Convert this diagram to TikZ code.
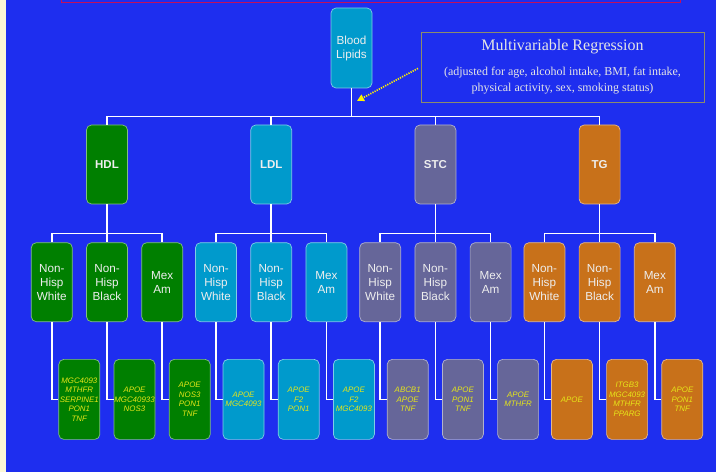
\documentclass[tikz,border=0pt]{standalone}
\usepackage{fontspec}
\setmainfont{Liberation Serif}
\setsansfont{Liberation Sans}
\usepackage{tikz}
\usetikzlibrary{arrows.meta,positioning}
\definecolor{slide}{HTML}{1E2EEF}
\definecolor{cream}{HTML}{FBF7D6}
\definecolor{crimson}{HTML}{C4105A}
\definecolor{hdlgreen}{HTML}{007F00}
\definecolor{ldlcyan}{HTML}{009ACC}
\definecolor{stcslate}{HTML}{666699}
\definecolor{tgorange}{HTML}{C8711A}
\definecolor{genes}{HTML}{E6E619}
\definecolor{olive}{HTML}{8C8C6C}
\definecolor{pale}{HTML}{EEEEEE}
\tikzset{
  tree/.style={draw=white,line width=1.6pt},
  hint/.style={-{Triangle[length=7pt,width=7pt]},draw=yellow,line width=1.7pt,
    dash pattern=on 1.2pt off 1.2pt,shorten <=3pt},
  box/.style={rounded corners=5pt,line width=0.7pt,align=center,inner sep=0pt,
    text width=41pt,minimum height=79pt,text=pale,
    font=\sffamily\fontsize{11.7}{14}\selectfont},
  lipid/.style={font=\sffamily\bfseries\fontsize{11.5}{14}\selectfont},
  gene/.style={text=genes,minimum height=80pt,
    font=\sffamily\itshape\fontsize{7.9}{9.5}\selectfont},
  hdlbox/.style={box,fill=hdlgreen,draw=hdlgreen!50!white},
  ldlbox/.style={box,fill=ldlcyan,draw=ldlcyan!50!white},
  stcbox/.style={box,fill=stcslate,draw=stcslate!50!white},
  tgbox/.style={box,fill=tgorange,draw=tgorange!50!white},
  notebox/.style={draw=olive,line width=0.8pt,align=center,text=pale!92!gray,
    minimum width=283pt,minimum height=70pt,inner sep=0pt}
}
\begin{document}
\begin{tikzpicture}[x=1pt,y=1pt]
  \useasboundingbox (0,0) rectangle (716,472);
  \clip (0,0) rectangle (716,472);
  \fill[slide] (0,0) rectangle (716,472);
  \fill[cream] (0,0) rectangle (6,472);
  \draw[crimson,line width=0.9pt] (61,490) rectangle (680,470);

  % root and note
  \node[ldlbox,minimum height=80pt] (blood) at (351.5,424) {Blood\\Lipids};
  \node[notebox] (reg) at (562.5,405) {\fontsize{16}{18}\selectfont Multivariable Regression\\[13pt]
    \fontsize{12}{16}\selectfont (adjusted for age, alcohol intake, BMI, fat intake,\\[4pt]
    \fontsize{12}{16}\selectfont physical activity, sex, smoking status)};
  \coordinate (regtip) at (357,371);
  \draw[hint] (reg.west) -- (regtip);

  % lipid traits
  \node[hdlbox,lipid] (hdl) at (107,307.5) {HDL};
  \node[ldlbox,lipid,right=122.5pt of hdl] (ldl) {LDL};
  \node[stcbox,lipid,right=122.5pt of ldl] (stc) {STC};
  \node[tgbox,lipid,right=122.5pt of stc] (tg) {TG};
  \draw[tree] (blood.south) -- ++(0,-28) -| (hdl.north); \draw[tree] (blood.south) -- ++(0,-28) -| (ldl.north);
  \draw[tree] (blood.south) -- ++(0,-28) -| (stc.north); \draw[tree] (blood.south) -- ++(0,-28) -| (tg.north);

  % ethnic groups
  \node[hdlbox,below=38pt of hdl] (hdl-b) {Non-\\Hisp\\Black};
  \node[hdlbox,left=13.5pt of hdl-b] (hdl-a) {Non-\\Hisp\\White};
  \node[hdlbox,right=13.5pt of hdl-b] (hdl-c) {Mex\\Am};
  \node[ldlbox,below=38pt of ldl] (ldl-b) {Non-\\Hisp\\Black};
  \node[ldlbox,left=13.5pt of ldl-b] (ldl-a) {Non-\\Hisp\\White};
  \node[ldlbox,right=13.5pt of ldl-b] (ldl-c) {Mex\\Am};
  \node[stcbox,below=38pt of stc] (stc-b) {Non-\\Hisp\\Black};
  \node[stcbox,left=13.5pt of stc-b] (stc-a) {Non-\\Hisp\\White};
  \node[stcbox,right=13.5pt of stc-b] (stc-c) {Mex\\Am};
  \node[tgbox,below=38pt of tg] (tg-b) {Non-\\Hisp\\Black};
  \node[tgbox,left=13.5pt of tg-b] (tg-a) {Non-\\Hisp\\White};
  \node[tgbox,right=13.5pt of tg-b] (tg-c) {Mex\\Am};
  \draw[tree] (hdl.south) -- ++(0,-29) -| (hdl-a.north); \draw[tree] (hdl.south) -- (hdl-b.north); \draw[tree] (hdl.south) -- ++(0,-29) -| (hdl-c.north);
  \draw[tree] (ldl.south) -- ++(0,-29) -| (ldl-a.north); \draw[tree] (ldl.south) -- (ldl-b.north); \draw[tree] (ldl.south) -- ++(0,-29) -| (ldl-c.north);
  \draw[tree] (stc.south) -- ++(0,-29) -| (stc-a.north); \draw[tree] (stc.south) -- (stc-b.north); \draw[tree] (stc.south) -- ++(0,-29) -| (stc-c.north);
  \draw[tree] (tg.south) -- ++(0,-29) -| (tg-a.north); \draw[tree] (tg.south) -- (tg-b.north); \draw[tree] (tg.south) -- ++(0,-29) -| (tg-c.north);

  % associated genes
  \node[hdlbox,gene,below=37pt of hdl-a,xshift=27.5pt] (hdl-ag) {MGC4093\\MTHFR\\SERPINE1\\PON1\\TNF};
  \node[hdlbox,gene,below=37pt of hdl-b,xshift=27.5pt] (hdl-bg) {APOE\\MGC40933\\NOS3};
  \node[hdlbox,gene,below=37pt of hdl-c,xshift=27.5pt] (hdl-cg) {APOE\\NOS3\\PON1\\TNF};
  \node[ldlbox,gene,below=37pt of ldl-a,xshift=27.5pt] (ldl-ag) {APOE\\MGC4093};
  \node[ldlbox,gene,below=37pt of ldl-b,xshift=27.5pt] (ldl-bg) {APOE\\F2\\PON1};
  \node[ldlbox,gene,below=37pt of ldl-c,xshift=27.5pt] (ldl-cg) {APOE\\F2\\MGC4093};
  \node[stcbox,gene,below=37pt of stc-a,xshift=27.5pt] (stc-ag) {ABCB1\\APOE\\TNF};
  \node[stcbox,gene,below=37pt of stc-b,xshift=27.5pt] (stc-bg) {APOE\\PON1\\TNF};
  \node[stcbox,gene,below=37pt of stc-c,xshift=27.5pt] (stc-cg) {APOE\\MTHFR};
  \node[tgbox,gene,below=37pt of tg-a,xshift=27.5pt] (tg-ag) {APOE};
  \node[tgbox,gene,below=37pt of tg-b,xshift=27.5pt] (tg-bg) {ITGB3\\MGC4093\\MTHFR\\PPARG};
  \node[tgbox,gene,below=37pt of tg-c,xshift=27.5pt] (tg-cg) {APOE\\PON1\\TNF};
  \draw[tree] (hdl-a.south) |- (hdl-ag.west); \draw[tree] (hdl-b.south) |- (hdl-bg.west); \draw[tree] (hdl-c.south) |- (hdl-cg.west);
  \draw[tree] (ldl-a.south) |- (ldl-ag.west); \draw[tree] (ldl-b.south) |- (ldl-bg.west); \draw[tree] (ldl-c.south) |- (ldl-cg.west);
  \draw[tree] (stc-a.south) |- (stc-ag.west); \draw[tree] (stc-b.south) |- (stc-bg.west); \draw[tree] (stc-c.south) |- (stc-cg.west);
  \draw[tree] (tg-a.south) |- (tg-ag.west); \draw[tree] (tg-b.south) |- (tg-bg.west); \draw[tree] (tg-c.south) |- (tg-cg.west);
\end{tikzpicture}
\end{document}
